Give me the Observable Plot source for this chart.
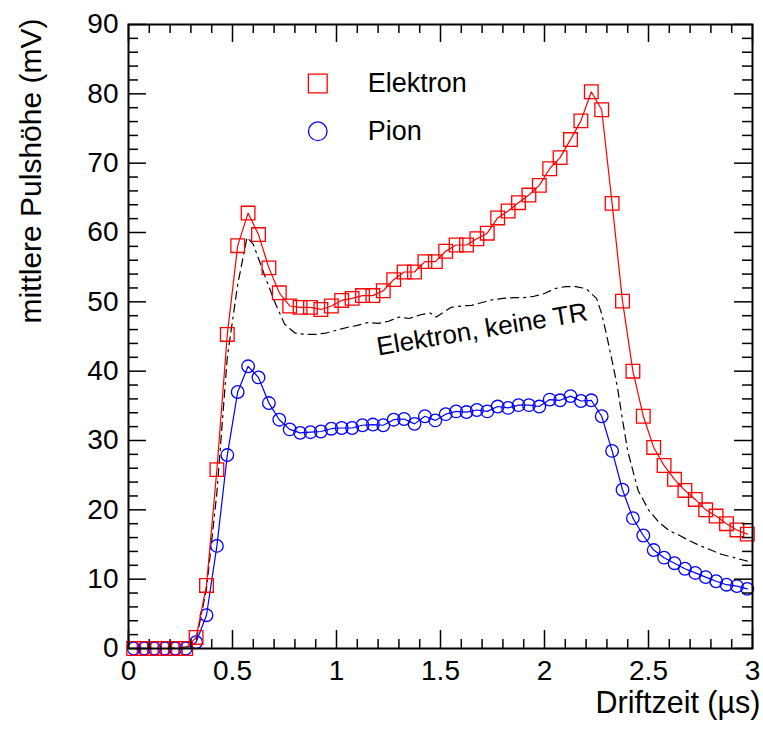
<!DOCTYPE html>
<html><head><meta charset="utf-8">
<script src="https://cdn.jsdelivr.net/npm/d3@7"></script>
<script src="https://cdn.jsdelivr.net/npm/@observablehq/plot@0.6"></script>
<style>body{margin:0;background:#fff} svg{display:block}</style>
</head><body><div id="chart"></div>
<script>
// Drift time bins (µs)
const driftTime = [0.025,0.075,0.125,0.175,0.225,0.275,0.325,0.375,0.425,0.475,
  0.525,0.575,0.625,0.675,0.725,0.775,0.825,0.875,0.925,0.975,
  1.025,1.075,1.125,1.175,1.225,1.275,1.325,1.375,1.425,1.475,
  1.525,1.575,1.625,1.675,1.725,1.775,1.825,1.875,1.925,1.975,
  2.025,2.075,2.125,2.175,2.225,2.275,2.325,2.375,2.425,2.475,
  2.525,2.575,2.625,2.675,2.725,2.775,2.825,2.875,2.925,2.975];
// Electron mean pulse height (mV)
const electron = [0,0,0,0,0,0,1.6,9.1,25.8,45.3,
  58.1,62.8,59.7,54.9,51.3,49.4,49.2,49.2,48.9,49.4,
  50.2,50.5,50.9,50.9,51.6,53.2,54.3,54.3,55.8,55.8,
  57.3,58.2,58.2,59.1,59.9,62.1,63.1,64.3,65.4,66.8,
  69.2,70.8,73.4,76.1,80.3,77.7,64.2,50.1,40.0,33.5,
  29.0,26.4,24.4,22.8,21.5,20.0,19.1,18.0,17.1,16.5];
// Pion mean pulse height (mV)
const pion = [0,0,0,0,0,0,0.9,4.8,14.8,27.9,
  37.0,40.7,39.1,35.4,33.0,31.6,31.1,31.2,31.3,31.7,
  31.8,31.8,32.2,32.3,32.2,33.0,33.1,32.4,33.5,32.9,
  33.8,34.2,34.1,34.4,34.2,34.9,34.7,35.1,35.1,34.9,
  35.9,35.8,36.4,35.7,35.8,33.5,28.5,22.9,18.8,16.3,
  14.2,13.1,12.3,11.5,10.9,10.3,9.7,9.2,9.0,8.6];
// Electron without TR (dashed curve)
const noTrTime = [0.025,0.1,0.2,0.3,0.325,0.375,0.425,0.475,0.525,0.57,
  0.6,0.65,0.7,0.75,0.8,0.85,0.9,0.95,1.0,1.05,
  1.1,1.15,1.2,1.25,1.3,1.35,1.4,1.45,1.48,1.55,
  1.6,1.65,1.7,1.75,1.8,1.85,1.9,1.95,2.0,2.05,
  2.1,2.15,2.2,2.25,2.275,2.3,2.325,2.35,2.375,2.4,
  2.45,2.5,2.55,2.6,2.65,2.7,2.75,2.8,2.85,2.9,2.95,2.99];
const noTr = [0,0,0,0.3,1.2,8.6,22.5,42.0,52.5,59.3,
  58.3,54.2,50.2,46.8,45.5,45.3,45.3,45.5,45.9,46.3,
  46.6,47.0,46.9,47.2,47.8,47.6,48.1,48.4,47.8,49.2,
  49.4,49.5,49.9,50.3,50.5,50.6,50.6,50.8,51.2,51.9,
  52.2,52.2,51.9,50.5,48.3,45.0,41.5,37.8,33.0,28.5,
  22.8,20.0,18.2,17.0,16.3,15.5,14.8,14.2,13.6,13.2,12.8,12.5];

const xTicks = [0,0.5,1,1.5,2,2.5,3];
const yTicks = [0,10,20,30,40,50,60,70,80,90];
const xMinor = d3.range(0, 3.0001, 0.1).filter(v => Math.abs(v*2 - Math.round(v*2)) > 1e-6);
const yMinor = d3.range(0, 90.0001, 2).filter(v => v % 10 !== 0);

const legendLabels = ["Elektron", "Pion"];
const legendMarkerX = 0.91, legendTextX = 1.15;
const legendY = [81.5, 74.6];
const annotation = "Elektron, keine TR";

const eRows = driftTime.map((t, i) => ({t, v: electron[i]}));
const pRows = driftTime.map((t, i) => ({t, v: pion[i]}));
const nRows = noTrTime.map((t, i) => ({t, v: noTr[i]}));

const W = 763, H = 733, mL = 128, mR = 11, mT = 24, mB = 85;
const iw = W - mL - mR, ih = H - mT - mB;
const font = "'Liberation Sans', Arial, Helvetica, sans-serif";

const chart = Plot.plot({
  width: W, height: H,
  marginLeft: mL, marginRight: mR, marginTop: mT, marginBottom: mB,
  style: {fontFamily: font, background: "#fff", color: "#000"},
  x: {domain: [0, 3]},
  y: {domain: [0, 90]},
  marks: [
    Plot.line(nRows, {x: "t", y: "v", stroke: "#000", strokeWidth: 1.2, strokeDasharray: "8,5,8,5,2,5"}),
    Plot.line(pRows, {x: "t", y: "v", stroke: "#0000ff", strokeWidth: 1.2}),
    Plot.dot(pRows, {x: "t", y: "v", symbol: "circle", r: 6.3, stroke: "#0000ff", fill: "none", strokeWidth: 1.3}),
    Plot.line(eRows, {x: "t", y: "v", stroke: "#ff0000", strokeWidth: 1.2}),
    Plot.dot(eRows, {x: "t", y: "v", symbol: "square", r: 7.7, stroke: "#ff0000", fill: "none", strokeWidth: 1.3}),
    // legend
    Plot.dot([legendLabels[0]], {x: () => legendMarkerX, y: () => legendY[0], symbol: "square", r: 10.6, stroke: "#ff0000", fill: "none", strokeWidth: 1.3}),
    Plot.dot([legendLabels[1]], {x: () => legendMarkerX, y: () => legendY[1], symbol: "circle", r: 9.3, stroke: "#0000ff", fill: "none", strokeWidth: 1.3}),
    Plot.text(legendLabels, {x: () => legendTextX, y: (d, i) => legendY[i], text: d => d, textAnchor: "start", lineAnchor: "middle", fontSize: 27, fill: "#000"}),
    // annotation
    Plot.text([annotation], {x: () => 1.70, y: () => 46.0, text: d => d, rotate: -9.5, textAnchor: "middle", lineAnchor: "middle", fontSize: 26, fill: "#000"}),
    // frame & ticks (inward, all four sides)
    Plot.frame({stroke: "#000", strokeWidth: 2}),
    Plot.ruleX(xTicks, {x: d => d, insetTop: ih - 18, stroke: "#000", strokeWidth: 1.5}),
    Plot.ruleX(xTicks, {x: d => d, insetBottom: ih - 18, stroke: "#000", strokeWidth: 1.5}),
    Plot.ruleX(xMinor, {x: d => d, insetTop: ih - 9, stroke: "#000", strokeWidth: 1.5}),
    Plot.ruleX(xMinor, {x: d => d, insetBottom: ih - 9, stroke: "#000", strokeWidth: 1.5}),
    Plot.ruleY(yTicks, {y: d => d, insetRight: iw - 18, stroke: "#000", strokeWidth: 1.5}),
    Plot.ruleY(yTicks, {y: d => d, insetLeft: iw - 18, stroke: "#000", strokeWidth: 1.5}),
    Plot.ruleY(yMinor, {y: d => d, insetRight: iw - 10, stroke: "#000", strokeWidth: 1.5}),
    Plot.ruleY(yMinor, {y: d => d, insetLeft: iw - 10, stroke: "#000", strokeWidth: 1.5}),
    // axes labels
    Plot.axisX(xTicks, {tickSize: 0, tickPadding: 12, fontSize: 28, tickFormat: d => String(d), label: null}),
    Plot.axisY(yTicks, {tickSize: 0, tickPadding: 10, fontSize: 28, tickFormat: d => String(d), label: null}),
    Plot.text(["Driftzeit (\u00b5s)"], {frameAnchor: "bottom-right", dx: 8, dy: 64, text: d => d, textAnchor: "end", lineAnchor: "bottom", fontSize: 30.5, fill: "#000"}),
    Plot.text(["mittlere Pulsh\u00f6he (mV)"], {frameAnchor: "top-left", dx: -97, dy: -6, text: d => d, rotate: -90, textAnchor: "end", lineAnchor: "middle", fontSize: 30, fill: "#000"})
  ]
});
document.getElementById("chart").appendChild(chart);
</script>
</body></html>
